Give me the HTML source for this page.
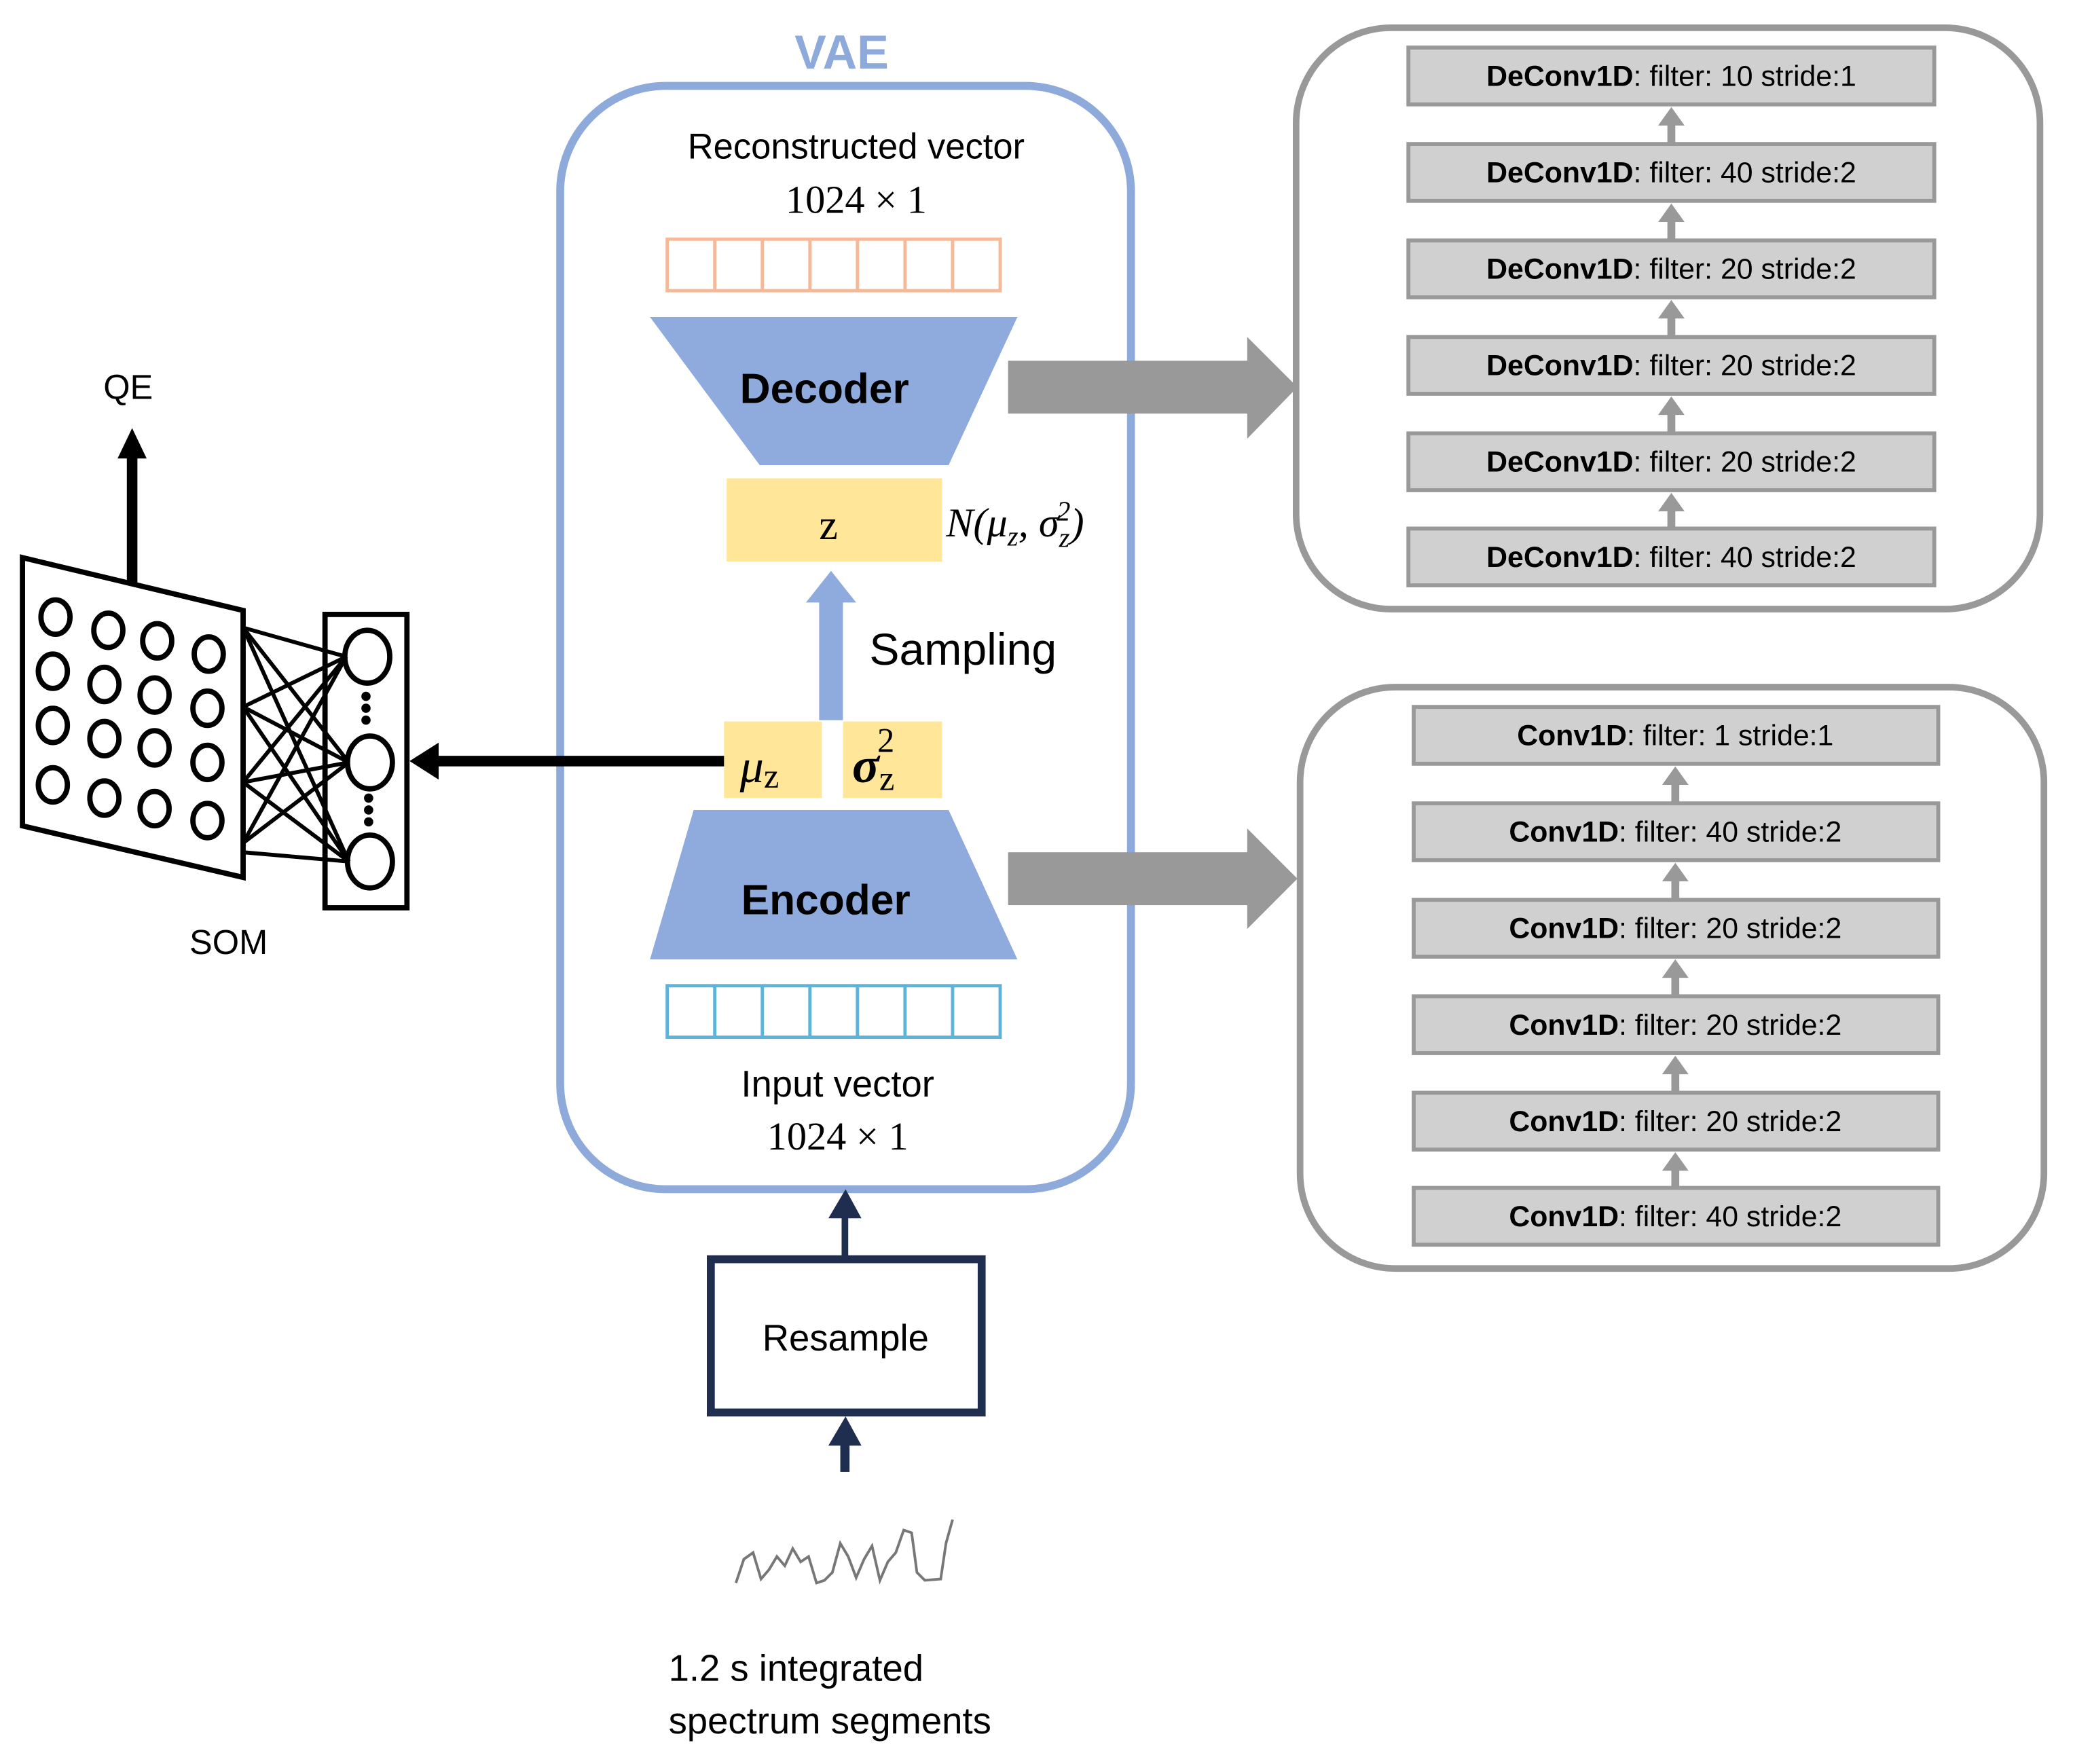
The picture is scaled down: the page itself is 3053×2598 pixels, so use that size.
<!DOCTYPE html>
<html><head><meta charset="utf-8"><style>html,body{margin:0;padding:0;background:#fff}svg{display:block}</style></head><body>
<svg width="3053" height="2598" viewBox="0 0 1569 1335" preserveAspectRatio="none" xmlns="http://www.w3.org/2000/svg" font-family="Liberation Sans, sans-serif">
<!-- VAE -->
<text x="637" y="52" font-size="36" font-weight="bold" fill="#8eaadb" text-anchor="middle">VAE</text>
<rect x="424" y="65" width="432" height="835" rx="80" fill="none" stroke="#8eaadb" stroke-width="6"/>
<text x="648" y="120" font-size="27" text-anchor="middle">Reconstructed vector</text>
<text x="648" y="161" font-size="30" font-family="Liberation Serif, serif" text-anchor="middle">1024 × 1</text>
<g fill="none" stroke="#f4b999" stroke-width="2.5">
<rect x="505" y="181" width="252" height="39"/>
<line x1="541" y1="181" x2="541" y2="220"/><line x1="577" y1="181" x2="577" y2="220"/><line x1="613" y1="181" x2="613" y2="220"/><line x1="649" y1="181" x2="649" y2="220"/><line x1="685" y1="181" x2="685" y2="220"/><line x1="721" y1="181" x2="721" y2="220"/>
</g>
<polygon points="492,240 770,240 718,352 575,352" fill="#8faadc"/>
<text x="624" y="305" font-size="32" font-weight="bold" text-anchor="middle">Decoder</text>
<rect x="550" y="362" width="163" height="63" fill="#ffe699"/>
<text x="627" y="408" font-size="32" font-family="Liberation Serif, serif" text-anchor="middle">z</text>
<text x="716" y="406" font-size="31" font-family="Liberation Serif, serif" font-style="italic">N(μ<tspan font-size="21" dy="7">z</tspan><tspan dy="-7">, σ</tspan><tspan font-size="21" dy="8">z</tspan><tspan font-size="21" dx="-10" dy="-20">2</tspan><tspan dy="12">)</tspan></text>
<rect x="620" y="455" width="18" height="90" fill="#8faadc"/>
<polygon points="610,456 648,456 629,432" fill="#8faadc"/>
<text x="658" y="503" font-size="34">Sampling</text>
<rect x="548" y="546" width="74" height="58" fill="#ffe699"/>
<rect x="638" y="546" width="75" height="58" fill="#ffe699"/>
<text x="560" y="592" font-size="36" font-family="Liberation Serif, serif" font-style="italic">μ<tspan font-size="26" font-style="normal" dy="4">z</tspan></text>
<text x="645" y="592" font-size="38" font-family="Liberation Serif, serif" font-style="italic" font-weight="bold">σ<tspan font-size="26" font-style="normal" font-weight="normal" dy="6">z</tspan><tspan font-size="26" font-style="normal" font-weight="normal" dx="-13" dy="-29">2</tspan></text>
<polygon points="525,613 718,613 770,726 492,726" fill="#8faadc"/>
<text x="625" y="692" font-size="32" font-weight="bold" text-anchor="middle">Encoder</text>
<g fill="none" stroke="#5fb2d8" stroke-width="2.5">
<rect x="505" y="746" width="252" height="39"/>
<line x1="541" y1="746" x2="541" y2="785"/><line x1="577" y1="746" x2="577" y2="785"/><line x1="613" y1="746" x2="613" y2="785"/><line x1="649" y1="746" x2="649" y2="785"/><line x1="685" y1="746" x2="685" y2="785"/><line x1="721" y1="746" x2="721" y2="785"/>
</g>
<text x="634" y="830" font-size="28" text-anchor="middle">Input vector</text>
<text x="634" y="870" font-size="30" font-family="Liberation Serif, serif" text-anchor="middle">1024 × 1</text>
<!-- Resample -->
<rect x="637" y="920" width="5" height="32" fill="#1f2d4f"/>
<polygon points="627,922 652,922 640,900" fill="#1f2d4f"/>
<rect x="538" y="953" width="205" height="116" fill="none" stroke="#1f2d4f" stroke-width="6"/>
<text x="640" y="1022" font-size="28" text-anchor="middle">Resample</text>
<rect x="636" y="1092" width="7" height="22" fill="#1f2d4f"/>
<polygon points="627,1094 652,1094 640,1072" fill="#1f2d4f"/>
<polyline points="557,1198 563,1180 570,1175 576,1195 582,1188 588,1178 594,1185 600,1172 606,1182 612,1178 618,1198 624,1196 630,1190 636,1168 642,1178 648,1194 654,1180 660,1170 666,1196 672,1182 678,1175 684,1158 690,1160 694,1190 700,1196 712,1195 716,1168 721,1150" fill="none" stroke="#777" stroke-width="2"/>
<text x="506" y="1272" font-size="28">1.2 s integrated</text>
<text x="506" y="1312" font-size="28">spectrum segments</text>
<!-- gray arrows -->
<rect x="763" y="273" width="183" height="40" fill="#999"/>
<polygon points="944,255 944,332 982,293" fill="#999"/>
<rect x="763" y="645" width="183" height="40" fill="#999"/>
<polygon points="944,627 944,703 982,665" fill="#999"/>
<!-- decoder box -->
<rect x="981" y="21" width="563" height="440" rx="72" fill="none" stroke="#999" stroke-width="5"/>
<g font-size="22" text-anchor="middle">
<g fill="#d0d0d0" stroke="#999" stroke-width="3">
<rect x="1066" y="36" width="398" height="43"/><rect x="1066" y="109" width="398" height="43"/><rect x="1066" y="182" width="398" height="43"/><rect x="1066" y="255" width="398" height="43"/><rect x="1066" y="328" width="398" height="43"/><rect x="1066" y="400" width="398" height="43"/>
</g>
<g fill="#999">
<rect x="1262" y="92" width="6" height="17"/><polygon points="1255,95 1275,95 1265,81"/>
<rect x="1262" y="165" width="6" height="17"/><polygon points="1255,168 1275,168 1265,154"/>
<rect x="1262" y="238" width="6" height="17"/><polygon points="1255,241 1275,241 1265,227"/>
<rect x="1262" y="311" width="6" height="17"/><polygon points="1255,314 1275,314 1265,300"/>
<rect x="1262" y="384" width="6" height="16"/><polygon points="1255,387 1275,387 1265,373"/>
</g>
<text x="1265" y="65"><tspan font-weight="bold">DeConv1D</tspan>: filter: 10 stride:1</text>
<text x="1265" y="138"><tspan font-weight="bold">DeConv1D</tspan>: filter: 40 stride:2</text>
<text x="1265" y="211"><tspan font-weight="bold">DeConv1D</tspan>: filter: 20 stride:2</text>
<text x="1265" y="284"><tspan font-weight="bold">DeConv1D</tspan>: filter: 20 stride:2</text>
<text x="1265" y="357"><tspan font-weight="bold">DeConv1D</tspan>: filter: 20 stride:2</text>
<text x="1265" y="429"><tspan font-weight="bold">DeConv1D</tspan>: filter: 40 stride:2</text>
</g>
<!-- encoder box -->
<rect x="984" y="520" width="563" height="440" rx="72" fill="none" stroke="#999" stroke-width="5"/>
<g font-size="22" text-anchor="middle">
<g fill="#d0d0d0" stroke="#999" stroke-width="3">
<rect x="1070" y="535" width="397" height="43"/><rect x="1070" y="608" width="397" height="43"/><rect x="1070" y="681" width="397" height="43"/><rect x="1070" y="754" width="397" height="43"/><rect x="1070" y="827" width="397" height="43"/><rect x="1070" y="899" width="397" height="43"/>
</g>
<g fill="#999">
<rect x="1265" y="591" width="6" height="17"/><polygon points="1258,594 1278,594 1268,580"/>
<rect x="1265" y="664" width="6" height="17"/><polygon points="1258,667 1278,667 1268,653"/>
<rect x="1265" y="737" width="6" height="17"/><polygon points="1258,740 1278,740 1268,726"/>
<rect x="1265" y="810" width="6" height="17"/><polygon points="1258,813 1278,813 1268,799"/>
<rect x="1265" y="883" width="6" height="16"/><polygon points="1258,886 1278,886 1268,872"/>
</g>
<text x="1268" y="564"><tspan font-weight="bold">Conv1D</tspan>: filter: 1 stride:1</text>
<text x="1268" y="637"><tspan font-weight="bold">Conv1D</tspan>: filter: 40 stride:2</text>
<text x="1268" y="710"><tspan font-weight="bold">Conv1D</tspan>: filter: 20 stride:2</text>
<text x="1268" y="783"><tspan font-weight="bold">Conv1D</tspan>: filter: 20 stride:2</text>
<text x="1268" y="856"><tspan font-weight="bold">Conv1D</tspan>: filter: 20 stride:2</text>
<text x="1268" y="928"><tspan font-weight="bold">Conv1D</tspan>: filter: 40 stride:2</text>
</g>
<!-- SOM -->
<rect x="330" y="572" width="218" height="8" fill="#000"/>
<polygon points="332,562 332,590 310,576" fill="#000"/>
<rect x="96" y="345" width="8" height="97" fill="#000"/>
<polygon points="89,347 111,347 100,324" fill="#000"/>
<text x="97" y="302" font-size="26" text-anchor="middle">QE</text>
<polygon points="17,422 184,462 184,664 17,625" fill="#fff" stroke="#000" stroke-width="4"/>
<g fill="none" stroke="#000" stroke-width="4">
<ellipse cx="42" cy="467" rx="11" ry="13"/><ellipse cx="82" cy="477" rx="11" ry="13"/><ellipse cx="119" cy="485" rx="11" ry="13"/><ellipse cx="158" cy="495" rx="11" ry="13"/>
<ellipse cx="40" cy="508" rx="11" ry="13"/><ellipse cx="79" cy="518" rx="11" ry="13"/><ellipse cx="117" cy="526" rx="11" ry="13"/><ellipse cx="157" cy="536" rx="11" ry="13"/>
<ellipse cx="40" cy="549" rx="11" ry="13"/><ellipse cx="79" cy="559" rx="11" ry="13"/><ellipse cx="117" cy="566" rx="11" ry="13"/><ellipse cx="157" cy="577" rx="11" ry="13"/>
<ellipse cx="40" cy="594" rx="11" ry="13"/><ellipse cx="79" cy="604" rx="11" ry="13"/><ellipse cx="117" cy="612" rx="11" ry="13"/><ellipse cx="157" cy="621" rx="11" ry="13"/>
<rect x="246" y="465" width="62" height="222"/>
<ellipse cx="278" cy="497" rx="17" ry="20"/><ellipse cx="280" cy="577" rx="17" ry="20"/><ellipse cx="280" cy="652" rx="17" ry="20"/>
</g>
<g stroke="#000" stroke-width="3">
<line x1="184" y1="475" x2="262" y2="497"/><line x1="184" y1="475" x2="264" y2="577"/><line x1="184" y1="475" x2="264" y2="652"/>
<line x1="184" y1="535" x2="262" y2="497"/><line x1="184" y1="535" x2="264" y2="577"/><line x1="184" y1="535" x2="264" y2="652"/>
<line x1="184" y1="592" x2="262" y2="497"/><line x1="184" y1="592" x2="264" y2="577"/><line x1="184" y1="592" x2="264" y2="652"/>
<line x1="184" y1="638" x2="262" y2="497"/><line x1="184" y1="638" x2="264" y2="577"/><line x1="184" y1="645" x2="264" y2="652"/>
</g>
<g fill="#000">
<circle cx="277" cy="527" r="3.5"/><circle cx="277" cy="536" r="3.5"/><circle cx="277" cy="545" r="3.5"/>
<circle cx="279" cy="604" r="3.5"/><circle cx="279" cy="613" r="3.5"/><circle cx="279" cy="622" r="3.5"/>
</g>
<text x="173" y="722" font-size="26" text-anchor="middle">SOM</text>
</svg>
</body></html>
